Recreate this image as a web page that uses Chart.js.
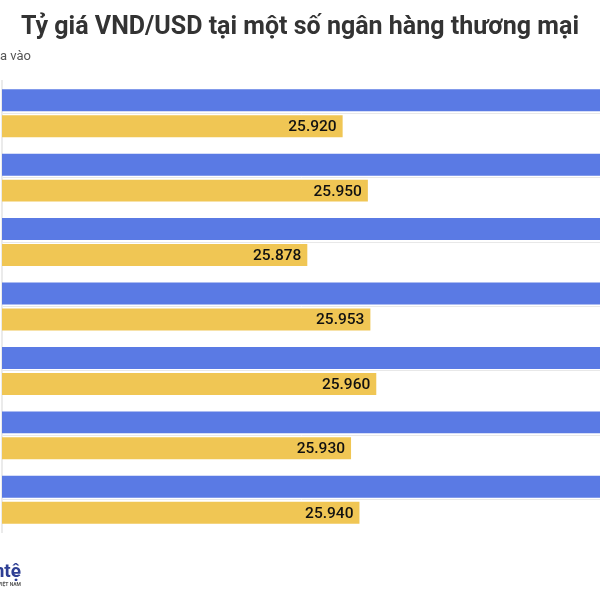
<!DOCTYPE html>
<html>
<head>
<meta charset="utf-8">
<script src="https://cdn.jsdelivr.net/npm/chart.js@4"></script>
<style>
  html, body { margin: 0; padding: 0; background: #fff; overflow: hidden; width: 600px; height: 600px; }
  #wrap { position: absolute; left: -100px; top: 0; width: 800px; height: 600px; }
</style>
</head>
<body>
<div id="wrap"><canvas id="c"></canvas></div>
<script>
// Data
const banks = ["Vietcombank", "BIDV", "VietinBank", "Agribank", "Techcombank", "ACB", "Sacombank"];
const sellRates = [26310, 26340, 26268, 26343, 26350, 26320, 26330]; // extend beyond the visible crop
const buyRates = [25920, 25950, 25878, 25953, 25960, 25930, 25940];
const seriesNames = ["Bán ra", "Mua vào"];
const titleText = "Tỷ giá VND/USD tại một số ngân hàng thương mại";
const logoText = "Tiềntệ";
const logoSub = "VIỆT NAM";

const BLUE = "#5a7ae4";
const YELLOW = "#f0c654";
const OFF = 100; // canvas x that corresponds to page x 0

function fmt(v) { return String(v).replace(/\B(?=(\d{3})+(?!\d))/g, "."); }

const overlay = {
  id: "overlay",
  afterDatasetsDraw(chart) {
    const ctx = chart.ctx;
    const meta = chart.getDatasetMeta(1);
    ctx.save();
    ctx.font = "500 15.5px Roboto";
    ctx.fillStyle = "#111";
    ctx.textAlign = "right";
    ctx.textBaseline = "middle";
    meta.data.forEach((el, i) => {
      ctx.fillText(fmt(buyRates[i]), el.x - 6, el.y + 1);
    });
    ctx.restore();
  },
  afterDraw(chart) {
    const ctx = chart.ctx;
    const W = chart.width;
    ctx.save();
    // title
    ctx.font = "bold 25px Roboto";
    ctx.fillStyle = "#333";
    ctx.textAlign = "center";
    ctx.textBaseline = "middle";
    ctx.fillText(titleText, W / 2, 28);
    // legend
    ctx.font = "13px Roboto";
    ctx.textAlign = "left";
    ctx.fillStyle = "#555";
    const muW = ctx.measureText("Mu").width;
    const x2 = OFF - muW;
    const ly = 57;
    ctx.fillText(seriesNames[1], x2, ly);
    ctx.fillStyle = YELLOW;
    ctx.fillRect(x2 - 18, ly - 6, 12, 12);
    const w1 = ctx.measureText(seriesNames[0]).width;
    const x1 = x2 - 30 - w1;
    ctx.fillStyle = "#555";
    ctx.fillText(seriesNames[0], x1, ly);
    ctx.fillStyle = BLUE;
    ctx.fillRect(x1 - 18, ly - 6, 12, 12);
    // logo
    ctx.font = "bold 19px Roboto";
    ctx.fillStyle = "#2e3f94";
    ctx.textAlign = "right";
    ctx.textBaseline = "alphabetic";
    ctx.fillText(logoText, OFF + 21, 577);
    ctx.font = "bold 5px Roboto";
    ctx.fillStyle = "#555";
    ctx.fillText(logoSub, OFF + 21, 586);
    ctx.restore();
  }
};

new Chart(document.getElementById("c"), {
  type: "bar",
  data: {
    labels: banks,
    datasets: [
      { label: seriesNames[0], data: sellRates, backgroundColor: BLUE },
      { label: seriesNames[1], data: buyRates, backgroundColor: YELLOW }
    ]
  },
  options: {
    indexAxis: "y",
    responsive: true,
    maintainAspectRatio: false,
    animation: false,
    devicePixelRatio: 1,
    categoryPercentage: 0.806,
    barPercentage: 0.846,
    layout: { padding: { left: 102, right: 100, top: 81, bottom: 68 } },
    plugins: { legend: { display: false }, title: { display: false }, tooltip: { enabled: false } },
    scales: {
      x: { display: false, min: 25515, max: 26226 },
      y: {
        ticks: { display: false },
        grid: { offset: false, color: "#e8e8e8", lineWidth: 1, drawTicks: false },
        border: { color: "#ebebeb", width: 2 }
      }
    }
  },
  plugins: [overlay]
});
</script>
</body>
</html>
